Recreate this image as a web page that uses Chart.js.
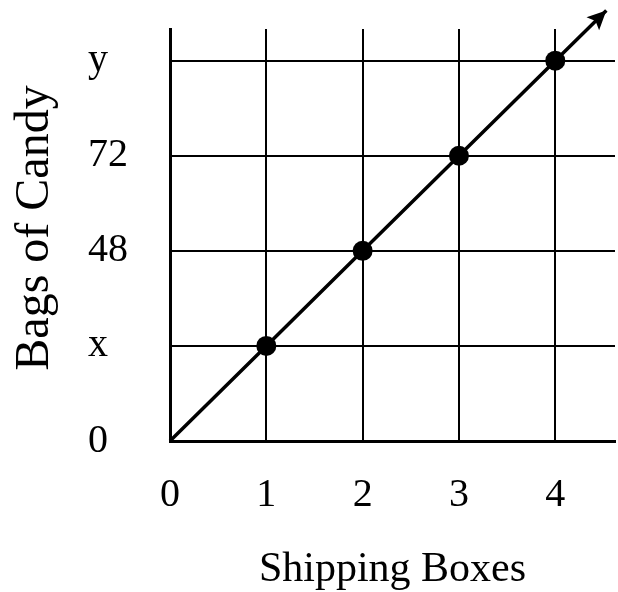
<!DOCTYPE html>
<html>
<head>
<meta charset="utf-8">
<script src="https://cdn.jsdelivr.net/npm/chart.js@4"></script>
<style>
    body { margin: 0; background: #fff; }
    #wrap { width: 618px; height: 592px; }
</style>
</head>
<body>
<div id="wrap"><canvas id="boxChart"></canvas></div>
<script>
const xTickValues = [0, 1, 2, 3, 4];
const yTickValues = [0, 24, 48, 72, 96];
const yTickLabels = ['0', 'x', '48', '72', 'y'];
const boxes = [0, 1, 2, 3, 4, 4.53];
const bags = [0, 24, 48, 72, 96, 108.7];

const SERIF = '"Liberation Serif", "Times New Roman", serif';

// y title drawn by hand so tick labels can stay left-aligned
const yTitlePlugin = {
    id: 'yTitle',
    afterDraw: function (chart) {
        const ctx = chart.ctx;
        ctx.save();
        ctx.translate(35, 228);
        ctx.rotate(-Math.PI / 2);
        ctx.font = '48px ' + SERIF;
        ctx.fillStyle = '#000';
        ctx.textAlign = 'center';
        ctx.textBaseline = 'middle';
        ctx.fillText('Bags of Candy', 0, 0);
        ctx.restore();
    }
};

// arrow head at the end of the line
const arrowPlugin = {
    id: 'arrowHead',
    afterDatasetsDraw: function (chart) {
        const pts = chart.getDatasetMeta(0).data;
        const a = pts[pts.length - 2];
        const b = pts[pts.length - 1];
        const ang = Math.atan2(b.y - a.y, b.x - a.x);
        const len = 19, half = 9;
        const ctx = chart.ctx;
        ctx.save();
        ctx.translate(b.x, b.y);
        ctx.rotate(ang);
        ctx.beginPath();
        ctx.moveTo(0, 0);
        ctx.lineTo(-len, -half);
        ctx.lineTo(-len * 0.8, 0);
        ctx.lineTo(-len, half);
        ctx.closePath();
        ctx.fillStyle = '#000';
        ctx.fill();
        ctx.restore();
    }
};

const ctx = document.getElementById('boxChart').getContext('2d');
new Chart(ctx, {
    type: 'line',
    data: {
        datasets: [{
            data: boxes.map((x, i) => ({ x: x, y: bags[i] })),
            borderColor: '#000',
            borderWidth: 3.5,
            pointBackgroundColor: '#000',
            pointBorderColor: '#000',
            pointBorderWidth: 0,
            pointRadius: (c) => (c.dataIndex === 0 || c.dataIndex === boxes.length - 1) ? 0 : 10,
            clip: false,
            tension: 0
        }]
    },
    options: {
        responsive: true,
        maintainAspectRatio: false,
        animation: false,
        layout: { padding: { left: 88, top: 29, right: 3, bottom: 0 } },
        plugins: {
            legend: { display: false },
            tooltip: { enabled: false }
        },
        scales: {
            x: {
                type: 'linear',
                min: 0,
                max: 4.62,
                afterBuildTicks: (s) => { s.ticks = xTickValues.map(v => ({ value: v })); },
                afterFit: (s) => { s.height = 151; },
                grid: { color: '#000', lineWidth: 2, drawTicks: false },
                border: { color: '#000', width: 3 },
                ticks: {
                    color: '#000',
                    padding: 30,
                    font: { family: SERIF, size: 40 },
                    callback: (v) => String(v)
                },
                title: {
                    display: true,
                    text: 'Shipping Boxes',
                    color: '#000',
                    font: { family: SERIF, size: 42, lineHeight: 1 },
                    padding: { top: 0, bottom: 1 }
                }
            },
            y: {
                min: 0,
                max: 104,
                afterBuildTicks: (s) => { s.ticks = yTickValues.map(v => ({ value: v })); },
                afterFit: (s) => { s.width = 82; },
                grid: { color: '#000', lineWidth: 2, drawTicks: false },
                border: { color: '#000', width: 3 },
                ticks: {
                    color: '#000',
                    crossAlign: 'far',
                    font: { family: SERIF, size: 40 },
                    callback: (v) => yTickLabels[yTickValues.indexOf(v)]
                }
            }
        }
    },
    plugins: [yTitlePlugin, arrowPlugin]
});
</script>
</body>
</html>
